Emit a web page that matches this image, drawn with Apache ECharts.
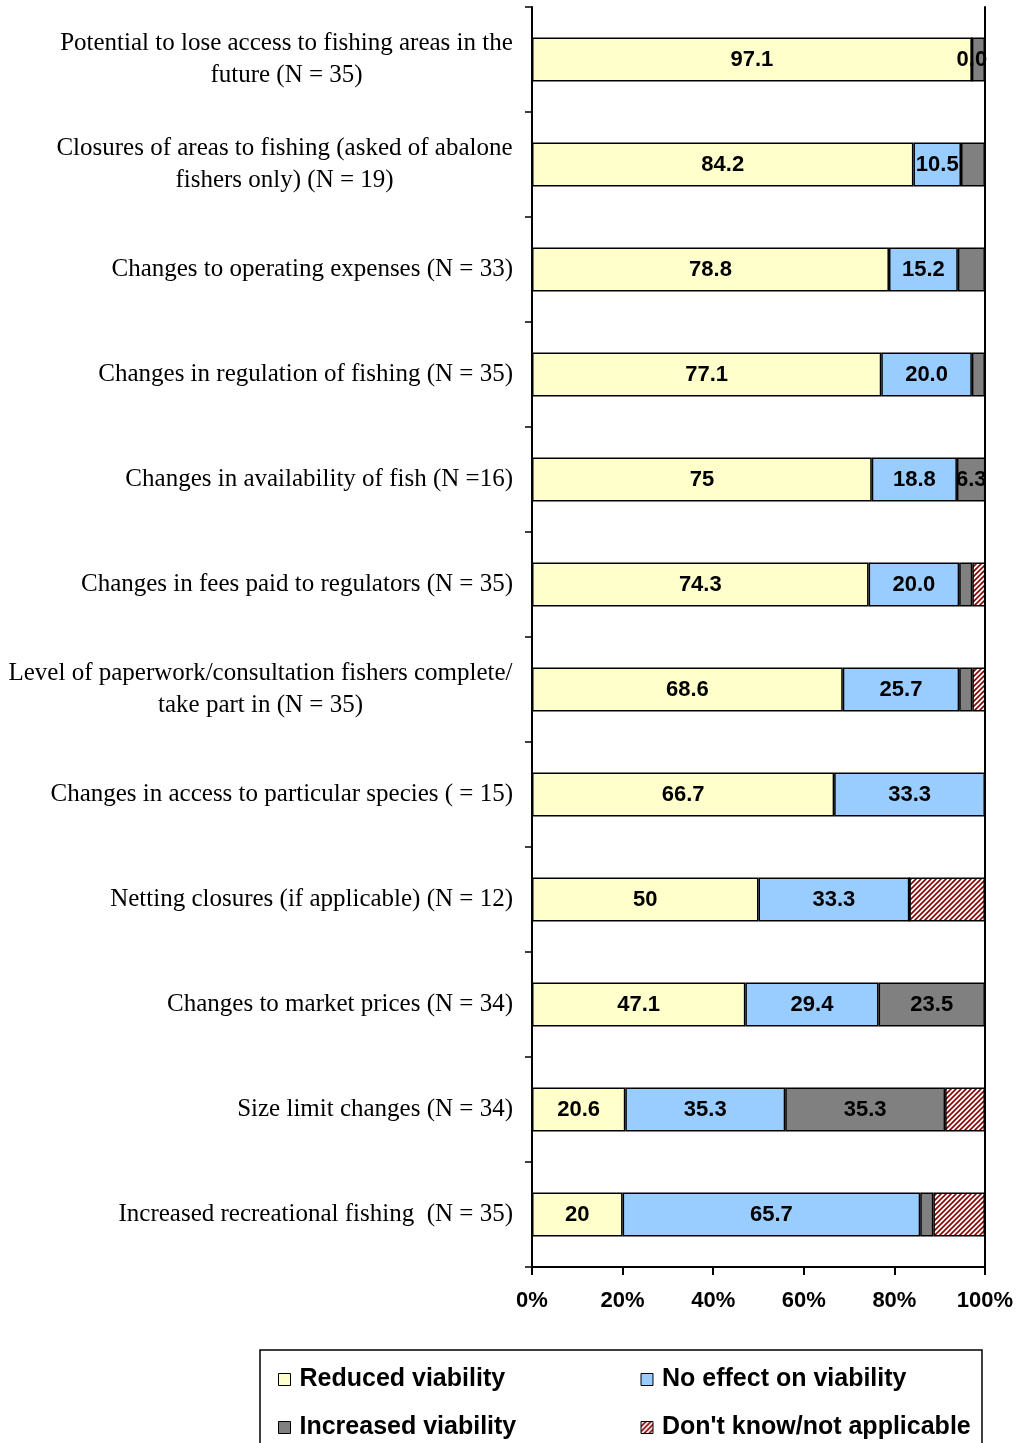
<!DOCTYPE html>
<html>
<head>
<meta charset="utf-8">
<script src="https://cdn.jsdelivr.net/npm/echarts@6/dist/echarts.min.js"></script>
<style>html,body{margin:0;padding:0;background:#fff;}#chart{width:1021px;height:1443px;}</style>
</head>
<body>
<div id="chart"></div>
<script>
const categories = [
  'Potential to lose access to fishing areas in the\nfuture (N = 35)',
  'Closures of areas to fishing (asked of abalone\nfishers only) (N = 19)',
  'Changes to operating expenses (N = 33)',
  'Changes in regulation of fishing (N = 35)',
  'Changes in availability of fish (N =16)',
  'Changes in fees paid to regulators (N = 35)',
  'Level of paperwork/consultation fishers complete/\ntake part in (N = 35)',
  'Changes in access to particular species ( = 15)',
  'Netting closures (if applicable) (N = 12)',
  'Changes to market prices (N = 34)',
  'Size limit changes (N = 34)',
  'Increased recreational fishing  (N = 35)'
];
const seriesNames = ['Reduced viability', 'No effect on viability', 'Increased viability', "Don't know/not applicable"];
const reduced   = [97.1, 84.2, 78.8, 77.1, 75, 74.3, 68.6, 66.7, 50, 47.1, 20.6, 20];
const noEffect  = [0.0, 10.5, 15.2, 20.0, 18.8, 20.0, 25.7, 33.3, 33.3, 29.4, 35.3, 65.7];
const increased = [2.9, 5.3, 6.0, 2.9, 6.3, 2.9, 2.9, 0, 0, 23.5, 35.3, 2.9];
const dontKnow  = [0, 0, 0, 0, 0, 2.9, 2.9, 0, 16.7, 0, 8.8, 11.4];
const reducedLabels   = ['97.1','84.2','78.8','77.1','75','74.3','68.6','66.7','50','47.1','20.6','20'];
const noEffectLabels  = ['0.0','10.5','15.2','20.0','18.8','20.0','25.7','33.3','33.3','29.4','35.3','65.7'];
const increasedLabels = ['','','','','6.3','','','','','23.5','35.3',''];
const dontKnowLabels  = ['','','','','','','','','','','',''];
const xTicks = [0, 20, 40, 60, 80, 100];

// hatch pattern
const pc = document.createElement('canvas');
pc.width = 5; pc.height = 5;
const pctx = pc.getContext('2d');
pctx.fillStyle = '#ffffff'; pctx.fillRect(0,0,5,5);
pctx.strokeStyle = '#8B0000'; pctx.lineWidth = 1.6;
pctx.beginPath();
pctx.moveTo(-1,6); pctx.lineTo(6,-1);
pctx.moveTo(-3,3); pctx.lineTo(3,-3);
pctx.moveTo(2,8); pctx.lineTo(8,2);
pctx.stroke();
const hatch = { image: pc, repeat: 'repeat' };

const colors = ['#FFFFCC', '#99CCFF', '#808080', hatch];
const values = [reduced, noEffect, increased, dontKnow];
const labels = [reducedLabels, noEffectLabels, increasedLabels, dontKnowLabels];

const catSize = 25;
const catFont = catSize + 'px "Liberation Serif"';
const mctx = document.createElement('canvas').getContext('2d');
mctx.font = catFont;
const rich = {};
categories.forEach((c, i) => {
  const lines = c.split('\n');
  if (lines.length > 1) {
    const w = Math.max(...lines.map(l => mctx.measureText(l).width));
    rich['c' + i] = { width: Math.ceil(w), align: 'center', fontFamily: 'Liberation Serif', fontSize: catSize, lineHeight: 32, color: '#000' };
  }
});

const series = seriesNames.map((name, s) => ({
  name: name,
  type: 'bar',
  stack: 'total',
  barWidth: '42%',
  itemStyle: { color: colors[s], borderColor: '#000', borderWidth: 1.5 },
  label: {
    position: 'inside',
    color: '#000',
    fontFamily: 'Liberation Sans',
    fontWeight: 'bold',
    fontSize: 22,
    formatter: p => labels[s][p.dataIndex]
  },
  emphasis: { disabled: true },
  data: values[s].map((v, i) => ({ value: v, label: { show: labels[s][i] !== '' } }))
}));

const chart = echarts.init(document.getElementById('chart'), null, { renderer: 'canvas' });
chart.setOption({
  animation: false,
  backgroundColor: '#fff',
  grid: { left: 532, right: 36, top: 7, bottom: 176 },
  xAxis: {
    type: 'value', min: 0, max: 100, interval: 20,
    axisLine: { show: true, lineStyle: { color: '#000', width: 2 } },
    axisTick: { show: true, length: 8, lineStyle: { color: '#000', width: 2 } },
    splitLine: { show: false },
    axisLabel: { formatter: v => xTicks.includes(v) ? v + '%' : '', color: '#000', fontFamily: 'Liberation Sans', fontWeight: 'bold', fontSize: 22, margin: 23 }
  },
  yAxis: [{
    type: 'category', data: categories, inverse: true,
    axisLine: { show: true, lineStyle: { color: '#000', width: 2 } },
    axisTick: { show: true, length: 7, lineStyle: { color: '#000', width: 1.5 } },
    axisLabel: {
      color: '#000', fontFamily: 'Liberation Serif', fontSize: catSize, lineHeight: 32, margin: 19,
      formatter: (v, i) => {
        const lines = v.split('\n');
        if (lines.length === 1) return v;
        return lines.map(l => '{c' + i + '|' + l + '}').join('\n');
      },
      rich: rich
    }
  }, {
    type: 'category', data: categories, inverse: true, position: 'right',
    axisLine: { show: true, lineStyle: { color: '#000', width: 2 } },
    axisTick: { show: false }, axisLabel: { show: false }
  }],
  legend: {
    data: seriesNames,
    left: 260, top: 1350,
    width: 712,
    orient: 'horizontal',
    itemWidth: 12, itemHeight: 12, itemGap: 23,
    padding: [17, 2, 30, 18],
    borderColor: '#000', borderWidth: 1.5,
    itemStyle: { borderColor: '#000', borderWidth: 1 },
    textStyle: { color: '#000', fontFamily: 'Liberation Sans', fontWeight: 'bold', fontSize: 25, width: 318, lineHeight: 22, padding: [0, 0, 0, 4] },
    icon: 'rect'
  },
  series: series
});
</script>
</body>
</html>
